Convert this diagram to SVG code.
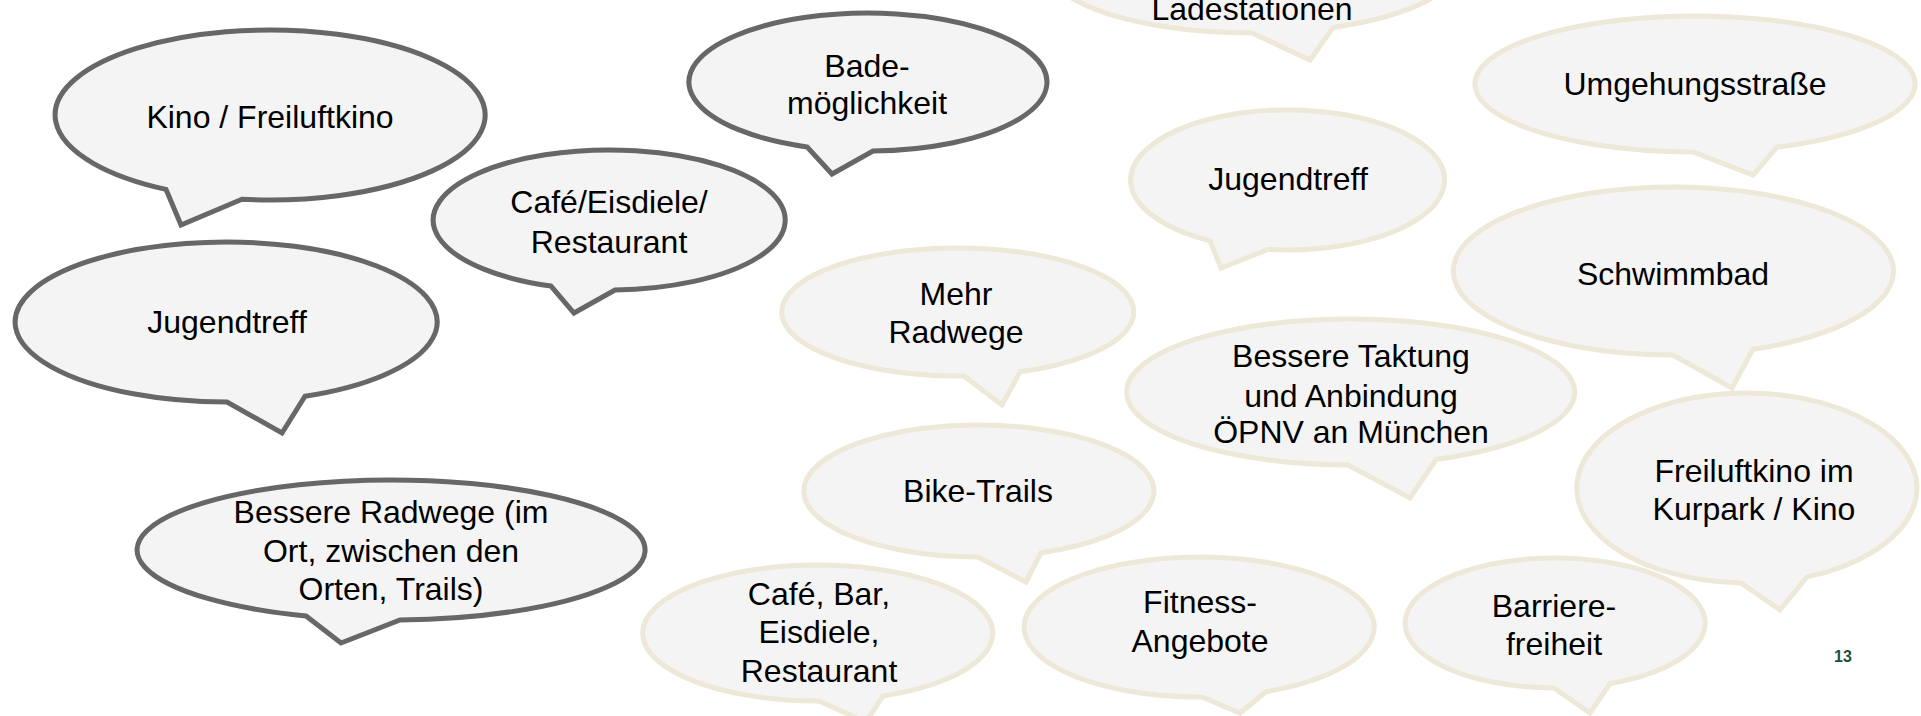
<svg xmlns="http://www.w3.org/2000/svg" width="1921" height="716" viewBox="0 0 1921 716">
<style>
.g{fill:#f4f4f4;stroke:#676767;stroke-width:5;stroke-linejoin:miter}
.b{fill:#f4f4f4;stroke:#eee8d8;stroke-width:5;stroke-linejoin:miter}
text{font-family:"Liberation Sans",Arial,sans-serif;font-size:32px;fill:#000;text-anchor:middle}
.pg{font-size:16px;font-weight:bold;fill:#1f4e3d}
</style>
<rect width="1921" height="716" fill="#ffffff"/>
<g id="connectors"></g>
<g id="n-ladestationen"><path class="b" d="M1333,27.5 A206,68 0 1 0 1252,33 L1310,60 Z"/><text x="1252" y="20">Ladestationen</text></g>
<g id="n-kino"><path class="g" d="M242,199.3 A215,85 0 1 0 166,189.4 L181,225 Z"/><text x="270" y="128">Kino / Freiluftkino</text></g>
<g id="n-cafe-eis"><path class="g" d="M615,290 A176,70 0 1 0 551,286.1 L574,313 Z"/><text x="609" y="213">Café/Eisdiele/</text><text x="609" y="253">Restaurant</text></g>
<g id="n-jugend-l"><path class="g" d="M305,396.2 A211,80 0 1 0 227,402 L282,433 Z"/><text x="227" y="333">Jugendtreff</text></g>
<g id="n-bade"><path class="g" d="M873,151 A179,69 0 1 0 807,146.9 L832,174 Z"/><text x="867" y="77">Bade-</text><text x="867" y="114">möglichkeit</text></g>
<g id="n-radwege"><path class="g" d="M400,620 A254,70 0 1 0 306,616 L341,643 Z"/><text x="391" y="523">Bessere Radwege (im</text><text x="391" y="562">Ort, zwischen den</text><text x="391" y="600">Orten, Trails)</text></g>
<g id="n-jugend-r"><path class="b" d="M1268,249.4 A157,70 0 1 0 1210,240.8 L1221,268 Z"/><text x="1288" y="190">Jugendtreff</text></g>
<g id="n-umgehung"><path class="b" d="M1777,147.1 A220,68 0 1 0 1693,152 L1753,175 Z"/><text x="1695" y="95">Umgehungsstraße</text></g>
<g id="n-schwimmbad"><path class="b" d="M1753,349.3 A220,84 0 1 0 1673,355 L1732,388 Z"/><text x="1673" y="285">Schwimmbad</text></g>
<g id="n-mehr"><path class="b" d="M1020,371.8 A176,64 0 1 0 964,375.9 L1002,405 Z"/><text x="956" y="305">Mehr</text><text x="956" y="343">Radwege</text></g>
<g id="n-oepnv"><path class="b" d="M1436,459.5 A224,73 0 1 0 1348,465 L1410,498 Z"/><text x="1351" y="367">Bessere Taktung</text><text x="1351" y="407">und Anbindung</text><text x="1351" y="443">ÖPNV an München</text></g>
<g id="n-bike"><path class="b" d="M1041,552.7 A175,66 0 1 0 978,557 L1026,582 Z"/><text x="978" y="502">Bike-Trails</text></g>
<g id="n-cafe-bar"><path class="b" d="M883,696.1 A175,68 0 1 0 819,701 L866,722 Z"/><text x="819" y="605">Café, Bar,</text><text x="819" y="643">Eisdiele,</text><text x="819" y="682">Restaurant</text></g>
<g id="n-fitness"><path class="b" d="M1266,691.7 A175,70 0 1 0 1202,697 L1240,713 Z"/><text x="1200" y="613">Fitness-</text><text x="1200" y="652">Angebote</text></g>
<g id="n-freiluft"><path class="b" d="M1807,576.9 A170,95 0 1 0 1741,583 L1780,610 Z"/><text x="1754" y="482">Freiluftkino im</text><text x="1754" y="520">Kurpark / Kino</text></g>
<g id="n-barriere"><path class="b" d="M1610,683.5 A150,65 0 1 0 1554,688 L1590,713 Z"/><text x="1554" y="617">Barriere-</text><text x="1554" y="655">freiheit</text></g>
<text class="pg" x="1843" y="662">13</text>
</svg>
